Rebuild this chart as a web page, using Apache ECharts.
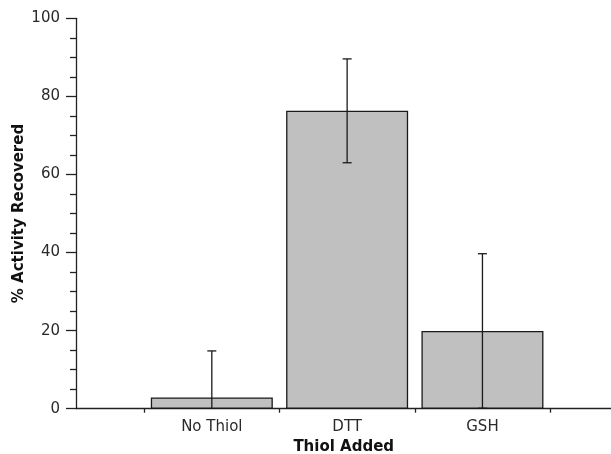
<!DOCTYPE html>
<html>
<head>
<meta charset="utf-8">
<script src="https://cdn.jsdelivr.net/npm/echarts@6/dist/echarts.min.js"></script>
<style>
    html, body { margin: 0; padding: 0; background: #fff; }
    #chart { width: 611px; height: 454px; }
</style>
</head>
<body>
<div id="chart"></div>
<script>
var categories = ['No Thiol', 'DTT', 'GSH'];
var activity = [2.9, 76.3, 19.9];
var errors = [11.9, 13.3, 19.8];
var yTicks = [0, 20, 40, 60, 80, 100];

var FONT = 'DejaVu Sans';
var chart = echarts.init(document.getElementById('chart'));

var barData = [];
var errData = [];
for (var i = 0; i < categories.length; i++) {
    barData.push([i + 1, activity[i]]);
    errData.push([i + 1, activity[i] - errors[i], activity[i] + errors[i]]);
}

var option = {
    animation: false,
    textStyle: {fontFamily: FONT},
    grid: {
        left: 76.5,
        top: 18.3,
        right: 0,
        bottom: 45.3,
        outerBoundsMode: 'none',
        containLabel: false
    },
    xAxis: {
        type: 'value',
        min: 0,
        max: 3.95,
        splitLine: {show: false},
        name: 'Thiol Added',
        nameLocation: 'middle',
        nameGap: 31,
        nameMoveOverlap: false,
        nameTextStyle: {fontFamily: FONT, fontSize: 15, fontWeight: 'bold', color: '#111'},
        axisLine: {lineStyle: {color: '#222', width: 1.3}},
        axisTick: {
            show: true,
            length: 4,
            customValues: [0.5, 1.5, 2.5, 3.5],
            lineStyle: {color: '#222', width: 1.3}
        },
        axisLabel: {
            customValues: [1, 2, 3],
            fontFamily: FONT,
            fontSize: 15,
            color: '#2a2a2a',
            margin: 11,
            formatter: function (v) {
                return categories[Math.round(v) - 1] || '';
            }
        }
    },
    yAxis: {
        type: 'value',
        min: 0,
        max: 100,
        interval: 20,
        name: '% Activity Recovered',
        nameLocation: 'middle',
        nameGap: 50,
        nameMoveOverlap: false,
        nameTextStyle: {fontFamily: FONT, fontSize: 15, fontWeight: 'bold', color: '#111'},
        splitLine: {show: false},
        axisLine: {show: true, lineStyle: {color: '#222', width: 1.3}},
        axisTick: {show: true, length: 10.5, lineStyle: {color: '#222', width: 1.3}},
        minorTick: {show: true, splitNumber: 4, length: 6.5, lineStyle: {color: '#222', width: 1.3}},
        axisLabel: {
            fontFamily: FONT,
            fontSize: 15,
            color: '#2a2a2a',
            margin: 16.5,
            customValues: yTicks
        }
    },
    series: [{
        type: 'bar',
        data: barData,
        barWidth: 122,
        itemStyle: {color: '#c0c0c0', borderColor: '#1a1a1a', borderWidth: 1.3},
        z: 2
    }, {
        type: 'custom',
        data: errData,
        z: 3,
        renderItem: function (params, api) {
            var x = api.value(0);
            var lo = Math.max(api.value(1), 0);
            var hi = api.value(2);
            var pLo = api.coord([x, lo]);
            var pHi = api.coord([x, hi]);
            var cap = 4.5;
            var style = {stroke: '#1a1a1a', lineWidth: 1.3};
            var children = [
                {type: 'line', shape: {x1: pHi[0], y1: pHi[1], x2: pLo[0], y2: pLo[1]}, style: style},
                {type: 'line', shape: {x1: pHi[0] - cap, y1: pHi[1], x2: pHi[0] + cap, y2: pHi[1]}, style: style}
            ];
            if (api.value(1) > 0) {
                children.push({type: 'line', shape: {x1: pLo[0] - cap, y1: pLo[1], x2: pLo[0] + cap, y2: pLo[1]}, style: style});
            }
            return {type: 'group', children: children};
        }
    }]
};

chart.setOption(option);
</script>
</body>
</html>
